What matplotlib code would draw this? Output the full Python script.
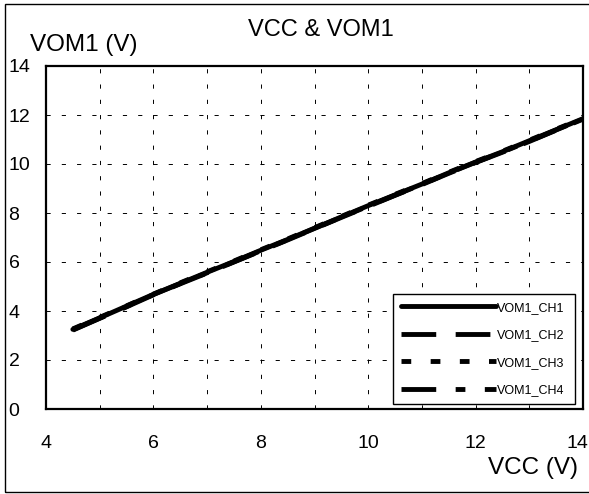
import matplotlib
matplotlib.use("Agg")
import matplotlib.pyplot as plt
from matplotlib.patches import Rectangle
from matplotlib.transforms import ScaledTranslation

plt.rcParams['font.family'] = ['Liberation Sans', 'DejaVu Sans']
plt.rcParams['lines.scale_dashes'] = False

# data
vcc = [4.5, 5.0, 5.5, 6.0, 6.5, 7.0, 7.5, 8.0, 8.5, 9.0,
       9.5, 10.0, 10.5, 11.0, 11.5, 12.0, 12.5, 13.0, 13.5, 14.0]
vom1_ch1 = [3.25, 3.72, 4.20, 4.68, 5.13, 5.58, 6.02, 6.48, 6.92, 7.38,
            7.84, 8.30, 8.74, 9.18, 9.64, 10.08, 10.50, 10.95, 11.40, 11.85]
vom1_ch2 = [3.22, 3.70, 4.17, 4.66, 5.11, 5.55, 6.00, 6.45, 6.90, 7.36,
            7.82, 8.27, 8.72, 9.16, 9.62, 10.06, 10.48, 10.92, 11.38, 11.83]
vom1_ch3 = [3.27, 3.74, 4.21, 4.69, 5.15, 5.60, 6.04, 6.50, 6.94, 7.40,
            7.86, 8.32, 8.76, 9.20, 9.66, 10.10, 10.52, 10.97, 11.42, 11.86]
vom1_ch4 = [3.23, 3.71, 4.18, 4.67, 5.12, 5.56, 6.01, 6.46, 6.91, 7.37,
            7.83, 8.28, 8.73, 9.17, 9.63, 10.07, 10.49, 10.93, 11.39, 11.84]
labels = ['VOM1_CH1', 'VOM1_CH2', 'VOM1_CH3', 'VOM1_CH4']

W, H = 589, 494
fig = plt.figure(figsize=(W / 100, H / 100), dpi=100)
ax = fig.add_axes([46 / W, 1 - 409 / H, (583 - 46) / W, (409 - 66) / H])

# outer frame
fig.patches.append(Rectangle((5 / W, 2 / H), 1.0, (490 - 2) / H, transform=fig.transFigure,
                             fill=False, edgecolor='black', linewidth=1.0, clip_on=False))

lw = 3.5
ax.plot(vcc, vom1_ch1, color='black', lw=lw, solid_capstyle='round', label=labels[0])
ax.plot(vcc, vom1_ch2, color='black', lw=lw, dashes=(25, 14), dash_capstyle='butt', label=labels[1])
ax.plot(vcc, vom1_ch3, color='black', lw=lw, dashes=(7, 14), dash_capstyle='butt', label=labels[2])
ax.plot(vcc, vom1_ch4, color='black', lw=lw, dashes=(25, 14, 7, 14), dash_capstyle='butt', label=labels[3])

ax.set_xlim(4, 14)
ax.set_ylim(0, 14)
ax.set_xticks(range(4, 15, 2))
ax.set_xticks(range(5, 14, 2), minor=True)
ax.set_yticks(range(0, 15, 2))
ax.tick_params(axis='both', which='both', length=0, labelsize=14)
ax.tick_params(axis='x', pad=19)
ax.tick_params(axis='y', pad=27)
for t in ax.get_yticklabels():
    t.set_horizontalalignment('left')
# last x label sits a little left so it stays inside the picture
last = ax.get_xticklabels()[-1]
last.set_transform(last.get_transform() + ScaledTranslation(-6 / 100, 0, fig.dpi_scale_trans))

grid_kw = dict(color='black', linewidth=0.7, dashes=(3, 8))
ax.grid(True, which='both', axis='x', **grid_kw)
ax.grid(True, which='major', axis='y', **grid_kw)
ax.set_axisbelow(True)
for s in ax.spines.values():
    s.set_linewidth(1.6)

fig.text(321 / W, 1 - 30 / H, 'VCC & VOM1', fontsize=17, ha='center', va='center')
fig.text(30 / W, 1 - 45 / H, 'VOM1 (V)', fontsize=17.5, ha='left', va='center')
fig.text(578 / W, 1 - 468 / H, 'VCC (V)', fontsize=17.5, ha='right', va='center')

leg = ax.legend(loc='lower left', mode='expand',
                bbox_to_anchor=(393 / W, 1 - 404 / H, (575 - 393) / W, (404 - 294) / H),
                bbox_transform=fig.transFigure, borderaxespad=0, fontsize=9,
                handlelength=7.6, handletextpad=0.1, labelspacing=1.25, borderpad=0.6,
                fancybox=False, framealpha=1, edgecolor='black')
leg.get_frame().set_linewidth(1.0)

fig.savefig('out.png', dpi=100)
